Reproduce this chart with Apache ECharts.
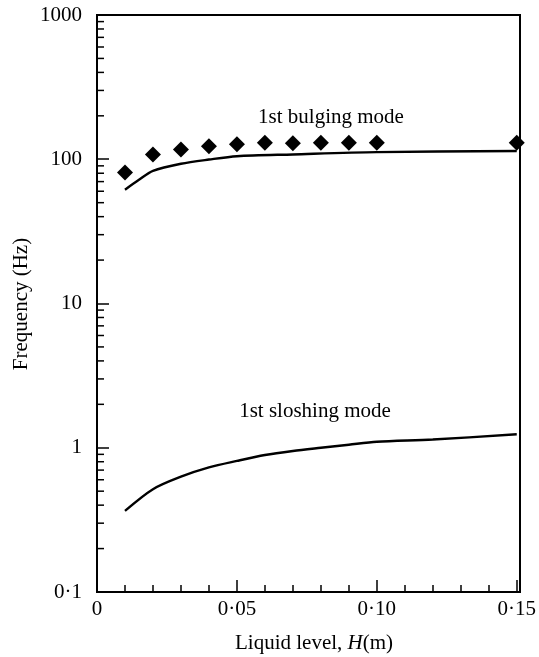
<!DOCTYPE html>
<html>
<head>
<meta charset="utf-8">
<script src="https://cdn.jsdelivr.net/npm/echarts@6/dist/echarts.min.js"></script>
<style>html,body{margin:0;padding:0;background:#fff;}#c{width:539px;height:657px;}</style>
</head>
<body>
<div id="c"></div>
<script>
// Data
const bulgingMeasuredH = [0.01, 0.02, 0.03, 0.04, 0.05, 0.06, 0.07, 0.08, 0.09, 0.10, 0.15];
const bulgingMeasuredF = [81, 108, 117, 123, 127, 130, 129, 130, 130, 130, 130];
const bulgingCurveH = [0.01, 0.015, 0.02, 0.03, 0.04, 0.05, 0.07, 0.10, 0.15];
const bulgingCurveF = [61.5, 72, 83, 93, 99.5, 105, 108, 112, 114];
const sloshingCurveH = [0.01, 0.02, 0.03, 0.04, 0.05, 0.06, 0.07, 0.08, 0.09, 0.10, 0.12, 0.15];
const sloshingCurveF = [0.365, 0.516, 0.63, 0.73, 0.81, 0.89, 0.95, 1.0, 1.05, 1.10, 1.14, 1.24];
const xTickLabels = {0: '0', 0.05: '0·05', 0.1: '0·10', 0.15: '0·15'};
const yTickLabels = {0.1: '0·1', 1: '1', 10: '10', 100: '100', 1000: '1000'};
const yMinorTickValues = [];
[0.1, 1, 10, 100].forEach(d => { for (let k = 2; k <= 9; k++) yMinorTickValues.push(+(d * k).toPrecision(3)); });

const FONT = '"Liberation Serif", "DejaVu Serif", serif';
const FS = 21;
const chart = echarts.init(document.getElementById('c'));
const pair = (xs, ys) => xs.map((x, i) => [x, ys[i]]);

chart.setOption({
  animation: false,
  backgroundColor: '#fff',
  grid: {left: 97, right: 19, top: 15, bottom: 65, show: false},
  xAxis: {
    type: 'value', min: 0, max: 0.15, interval: 0.05,
    axisLine: {show: true, lineStyle: {color: '#000', width: 2}},
    axisTick: {show: true, inside: true, length: 12, lineStyle: {color: '#000', width: 1.5}},
    minorTick: {show: true, splitNumber: 5, length: 7, lineStyle: {color: '#000', width: 1.5}},
    splitLine: {show: false},
    axisLabel: {color: '#000', fontFamily: FONT, fontSize: FS, margin: 7,
      formatter: v => { const k = Object.keys(xTickLabels).find(t => Math.abs(+t - v) < 1e-9); return k !== undefined ? xTickLabels[k] : ''; }}
  },
  yAxis: [{
    type: 'log', logBase: 10, min: 0.1, max: 1000,
    axisLine: {show: true, onZero: false, lineStyle: {color: '#000', width: 2}},
    axisTick: {show: true, inside: true, length: 12, lineStyle: {color: '#000', width: 1.5}},
    splitLine: {show: false},
    axisLabel: {color: '#000', fontFamily: FONT, fontSize: FS, margin: 15,
      formatter: v => { const k = Object.keys(yTickLabels).find(t => Math.abs(Math.log10(+t) - Math.log10(v)) < 1e-6); return k !== undefined ? yTickLabels[k] : ''; }}
  }],
  graphic: [
    {type: 'rect', shape: {x: 97, y: 15, width: 423, height: 577}, style: {fill: 'none', stroke: '#000', lineWidth: 2}, silent: true, z: 0},
    {type: 'text', style: {text: 'Frequency (Hz)', font: FS + 'px ' + FONT, fill: '#000', textAlign: 'center', textVerticalAlign: 'middle'}, rotation: Math.PI / 2, x: 21, y: 304},
    {type: 'text', style: {rich: {n: {font: FS + 'px ' + FONT, fill: '#000'}, i: {font: 'italic ' + FS + 'px ' + FONT, fill: '#000'}}, text: '{n|Liquid level, }{i|H}{n|(m)}', textAlign: 'center', textVerticalAlign: 'middle'}, x: 314, y: 643},
    {type: 'text', style: {text: '1st bulging mode', font: FS + 'px ' + FONT, fill: '#000', textAlign: 'center', textVerticalAlign: 'middle'}, x: 331, y: 117},
    {type: 'text', style: {text: '1st sloshing mode', font: FS + 'px ' + FONT, fill: '#000', textAlign: 'center', textVerticalAlign: 'middle'}, x: 315, y: 411}
  ],
  series: [
    {type: 'custom', silent: true, data: yMinorTickValues.map(v => [0, v]),
      renderItem: (params, api) => {
        const p = api.coord([0, api.value(1)]);
        return {type: 'line', shape: {x1: p[0], y1: p[1], x2: p[0] + 7, y2: p[1]}, style: {stroke: '#000', lineWidth: 1.5}};
      }},
    {type: 'line', data: pair(bulgingCurveH, bulgingCurveF), smooth: 0.3, symbol: 'none', lineStyle: {color: '#000', width: 2.4}},
    {type: 'line', data: pair(sloshingCurveH, sloshingCurveF), smooth: 0.3, symbol: 'none', lineStyle: {color: '#000', width: 2.4}},
    {type: 'scatter', data: pair(bulgingMeasuredH, bulgingMeasuredF), symbol: 'diamond', symbolSize: [16, 16], itemStyle: {color: '#000', opacity: 1}, clip: false, z: 5}
  ]
});
</script>
</body>
</html>
